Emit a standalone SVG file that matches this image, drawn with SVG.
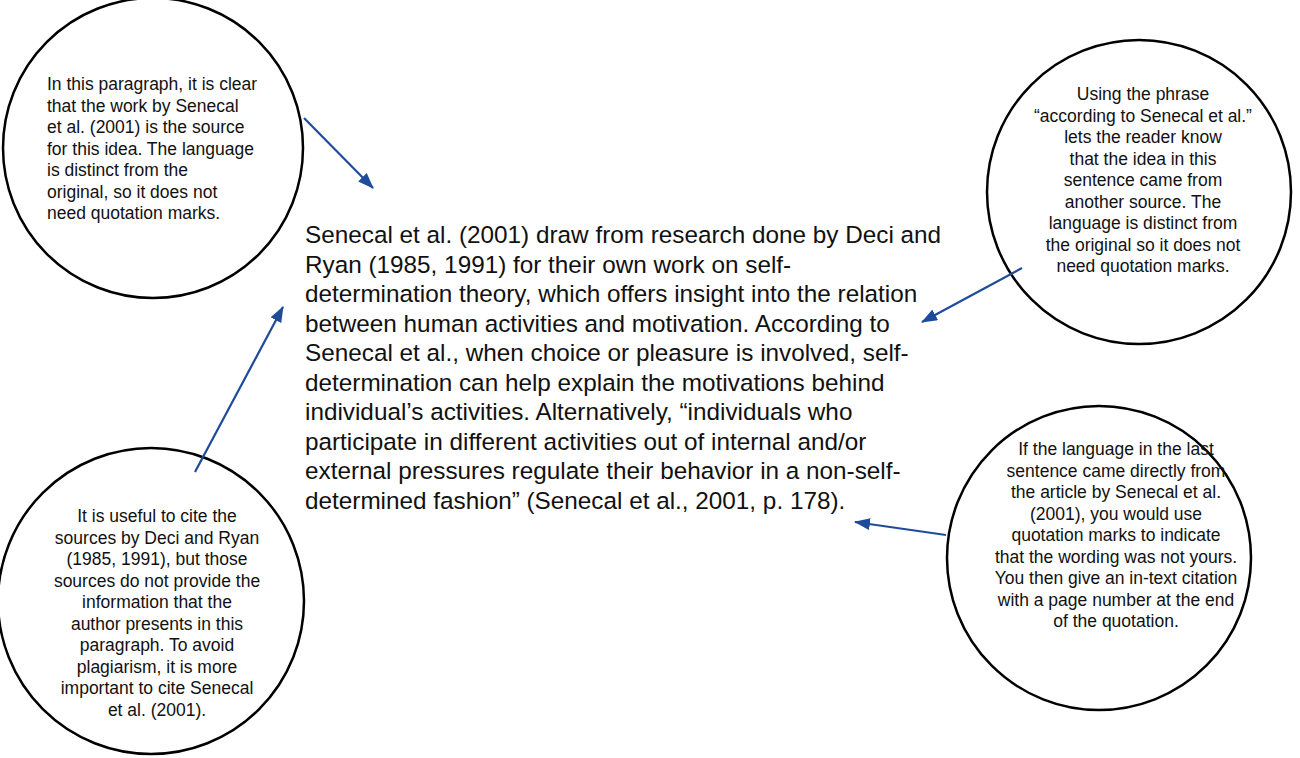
<svg xmlns="http://www.w3.org/2000/svg" width="1300" height="758" viewBox="0 0 1300 758">
<style>
.c{fill:#fff;stroke:#000;stroke-width:2.5}
.s{font-family:"Liberation Sans",Arial,sans-serif;font-size:17.5px;fill:#111}
.m{font-family:"Liberation Sans",Arial,sans-serif;font-size:24.3px;fill:#111}
.a{stroke:#1f4b9b;stroke-width:2.2;fill:none;marker-end:url(#h)}
</style>
<defs><marker id="h" viewBox="0 0 16 12" refX="15" refY="6" markerWidth="16" markerHeight="12" orient="auto" markerUnits="userSpaceOnUse"><path d="M0,0 L16,6 L0,12 Z" fill="#1f4b9b"/></marker>
</defs>
<rect width="1300" height="758" fill="#fff"/>
<g id="n1"><circle class="c" cx="153" cy="148" r="150"/>
<text class="s" x="47" y="90"><tspan x="47">In this paragraph, it is clear</tspan><tspan x="47" dy="21.5">that the work by Senecal</tspan><tspan x="47" dy="21.5">et al. (2001) is the source</tspan><tspan x="47" dy="21.5">for this idea. The language</tspan><tspan x="47" dy="21.5">is distinct from the</tspan><tspan x="47" dy="21.5">original, so it does not</tspan><tspan x="47" dy="21.5">need quotation marks.</tspan></text></g>
<g id="n2"><circle class="c" cx="1139" cy="192" r="152"/>
<text class="s" text-anchor="middle" y="100"><tspan x="1143">Using the phrase</tspan><tspan x="1143" dy="21.5">“according to Senecal et al.”</tspan><tspan x="1143" dy="21.5">lets the reader know</tspan><tspan x="1143" dy="21.5">that the idea in this</tspan><tspan x="1143" dy="21.5">sentence came from</tspan><tspan x="1143" dy="21.5">another source. The</tspan><tspan x="1143" dy="21.5">language is distinct from</tspan><tspan x="1143" dy="21.5">the original so it does not</tspan><tspan x="1143" dy="21.5">need quotation marks.</tspan></text></g>
<g id="n3"><circle class="c" cx="151" cy="601" r="153"/>
<text class="s" text-anchor="middle" y="522"><tspan x="157">It is useful to cite the</tspan><tspan x="157" dy="21.5">sources by Deci and Ryan</tspan><tspan x="157" dy="21.5">(1985, 1991), but those</tspan><tspan x="157" dy="21.5">sources do not provide the</tspan><tspan x="157" dy="21.5">information that the</tspan><tspan x="157" dy="21.5">author presents in this</tspan><tspan x="157" dy="21.5">paragraph. To avoid</tspan><tspan x="157" dy="21.5">plagiarism, it is more</tspan><tspan x="157" dy="21.5">important to cite Senecal</tspan><tspan x="157" dy="21.5">et al. (2001).</tspan></text></g>
<g id="n4"><circle class="c" cx="1099" cy="558" r="152"/>
<text class="s" text-anchor="middle" y="455"><tspan x="1116">If the language in the last</tspan><tspan x="1116" dy="21.5">sentence came directly from</tspan><tspan x="1116" dy="21.5">the article by Senecal et al.</tspan><tspan x="1116" dy="21.5">(2001), you would use</tspan><tspan x="1116" dy="21.5">quotation marks to indicate</tspan><tspan x="1116" dy="21.5">that the wording was not yours.</tspan><tspan x="1116" dy="21.5">You then give an in-text citation</tspan><tspan x="1116" dy="21.5">with a page number at the end</tspan><tspan x="1116" dy="21.5">of the quotation.</tspan></text></g>
<g id="main"><text class="m" y="243"><tspan x="305">Senecal et al. (2001) draw from research done by Deci and</tspan><tspan x="305" dy="29.5">Ryan (1985, 1991) for their own work on self-</tspan><tspan x="305" dy="29.5">determination theory, which offers insight into the relation</tspan><tspan x="305" dy="29.5">between human activities and motivation. According to</tspan><tspan x="305" dy="29.5">Senecal et al., when choice or pleasure is involved, self-</tspan><tspan x="305" dy="29.5">determination can help explain the motivations behind</tspan><tspan x="305" dy="29.5">individual’s activities. Alternatively, “individuals who</tspan><tspan x="305" dy="29.5">participate in different activities out of internal and/or</tspan><tspan x="305" dy="29.5">external pressures regulate their behavior in a non-self-</tspan><tspan x="305" dy="29.5">determined fashion” (Senecal et al., 2001, p. 178).</tspan></text></g>
<g id="connectors">
<line class="a" x1="304" y1="118" x2="373" y2="188"/>
<line class="a" x1="1022" y1="268" x2="922" y2="322"/>
<line class="a" x1="195" y1="472" x2="283" y2="307"/>
<line class="a" x1="946" y1="535" x2="855" y2="522"/>
</g>
</svg>
